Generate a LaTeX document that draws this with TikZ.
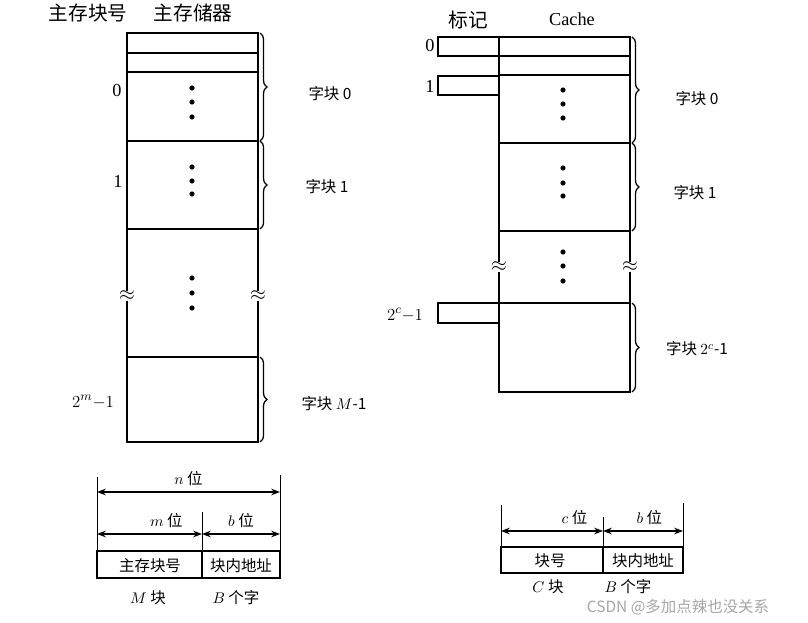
\documentclass[tikz,border=0pt]{standalone}
\usepackage{fontspec}
\setmainfont{Liberation Serif}
\newfontfamily\cjk{Noto Sans CJK SC}
\usetikzlibrary{positioning, arrows.meta, decorations.pathreplacing}

\begin{document}
\begin{tikzpicture}[
    x=0.025cm, y=-0.025cm,
    frame/.style={line width=1.2pt},
    head/.style={font=\cjk\fontsize{14}{16}\selectfont},
    lbl/.style={font=\fontsize{13}{15}\selectfont},
    side/.style={font=\cjk\fontsize{11}{13}\selectfont},
    field/.style={font=\cjk\fontsize{11}{13}\selectfont},
    brc/.style={decorate, decoration={brace, amplitude=5pt}, line width=0.9pt},
    vdot/.style={circle, fill, inner sep=1.3pt},
    wave/.style={fill=white, inner sep=0.3pt, font=\Large},
    dim/.style={{Stealth[length=2.2mm]}-{Stealth[length=2.2mm]}, line width=0.9pt}
]
\useasboundingbox (0,0) rectangle (808,623);

% main memory
\node[head] (hnum) at (88,13) {主存块号};
\node[head] (hmem) at (193,13) {主存储器};
\draw[frame] (127,33) rectangle (258,442);
\foreach \y in {53,72,141,229,357} \draw[frame] (127,\y) -- (258,\y);
\foreach \y in {88,102,117,167,181,194,278,293,308} \node[vdot] (md\y) at (192,\y) {};
\node[wave] (mw1) at (127,296) {$\approx$};
\node[wave] (mw2) at (258,296) {$\approx$};
\node[lbl] (m0) at (117,91) {0};
\node[lbl] (m1) at (118,181) {1};
\node[lbl] (mM) at (93,402) {$2^{m}{-}1$};
\draw[brc] (260,33) -- (260,141);
\draw[brc] (260,141) -- (260,229);
\draw[brc] (260,357) -- (260,442);
\node[side] (mb0) at (330,94) {字块 0};
\node[side] (mb1) at (327,187) {字块 1};
\node[side] (mbM) at (334,404) {字块 $M$-1};

% cache
\node[head] (htag) at (468,20) {标记};
\node[lbl] (hcache) at (572,19) {Cache};
\draw[frame] (499,37) rectangle (630,392);
\foreach \y in {56,75,143,231,303} \draw[frame] (499,\y) -- (630,\y);
\draw[frame] (438,37) rectangle (499,56);
\draw[frame] (438,76) rectangle (499,95);
\draw[frame] (438,303) rectangle (499,323);
\foreach \y in {90,104,118,168,183,196,252,266,281} \node[vdot] (cd\y) at (563,\y) {};
\node[wave] (cw1) at (499,267) {$\approx$};
\node[wave] (cw2) at (630,267) {$\approx$};
\node[lbl] (c0) at (430,46) {0};
\node[lbl] (c1) at (430,86) {1};
\node[lbl] (cC) at (405,315) {$2^{c}{-}1$};
\draw[brc] (632,37) -- (632,143);
\draw[brc] (632,143) -- (632,231);
\draw[brc] (632,303) -- (632,392);
\node[side] (cb0) at (697,99) {字块 0};
\node[side] (cb1) at (695,193) {字块 1};
\node[side] (cbC) at (697,349) {字块 $2^{c}$-1};

% main memory address
\draw[frame] (97,551) rectangle (280,578);
\draw[frame] (202,551) -- (202,578);
\node[field] (fm1) at (150,566) {主存块号};
\node[field] (fm2) at (241,566) {块内地址};
\node[field] (fm3) at (148,598) {$M$ 块};
\node[field] (fm4) at (236,598) {$B$ 个字};
\coordinate (mL) at (97,477);
\coordinate (mR) at (280,475);
\coordinate (mD) at (202,512);
\draw (mL) -- (97,551);
\draw (mR) -- (280,551);
\draw (mD) -- (202,551);
\coordinate (n1) at (97,492);
\coordinate (n2) at (280,492);
\coordinate (m2) at (202,534);
\coordinate (m1) at (97,534);
\coordinate (b2) at (280,534);
\draw[dim] (n1) -- (n2) node[midway, above=1pt, field] (nlbl) {$n$ 位};
\draw[dim] (m1) -- (m2) node[pos=0.66, above=1pt, field] (mlbl) {$m$ 位};
\draw[dim] (m2) -- (b2) node[midway, above=1pt, field] (blbl) {$b$ 位};

% cache address
\draw[frame] (501,547) rectangle (683,573);
\draw[frame] (603,547) -- (603,573);
\node[field] (fc1) at (550,561) {块号};
\node[field] (fc2) at (643,561) {块内地址};
\node[field] (fc3) at (548,587) {$C$ 块};
\node[field] (fc4) at (628,587) {$B$ 个字};
\draw (501,505) -- (501,547);
\draw (603,517) -- (603,547);
\draw (683,503) -- (683,547);
\coordinate (c1) at (501,531);
\coordinate (c2) at (603,531);
\coordinate (c3) at (683,531);
\draw[dim] (c1) -- (c2) node[pos=0.72, above=1pt, field] (clbl) {$c$ 位};
\draw[dim] (c2) -- (c3) node[pos=0.58, above=1pt, field] (cblbl) {$b$ 位};

\node[font=\cjk\fontsize{11}{13}\selectfont, text=gray!70] (wm) at (678,607) {CSDN @多加点辣也没关系};
\end{tikzpicture}
\end{document}
